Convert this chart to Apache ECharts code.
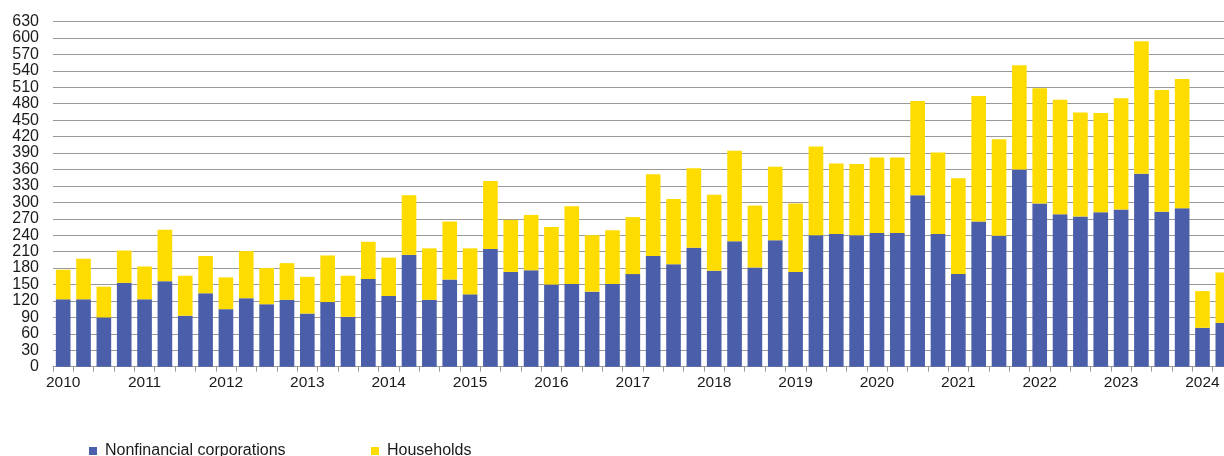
<!DOCTYPE html>
<html>
<head>
<meta charset="utf-8">
<script src="https://cdn.jsdelivr.net/npm/echarts@6/dist/echarts.min.js"></script>
<style>
  html, body { margin: 0; padding: 0; background: #fff; overflow: hidden; }
  /* chart is wider than the window on purpose: the last bar is cut at the right edge */
  #chart { width: 1240px; height: 470px; }
</style>
</head>
<body>
<div id="chart"></div>
<script>
/* -------------------------------------------------------------------------- */
/*                      Loans by sector, quarterly 2010-2024                  */
/* -------------------------------------------------------------------------- */

const years = ['2010', '2011', '2012', '2013', '2014', '2015', '2016',
  '2017', '2018', '2019', '2020', '2021', '2022', '2023', '2024'];

// quarter labels, only Q1 gets the year shown
const quarters = [];
years.forEach(y => {
  ['Q1', 'Q2', 'Q3', 'Q4'].forEach(q => {
    if (y === '2024' && (q === 'Q3' || q === 'Q4')) return;
    quarters.push(y + ' ' + q);
  });
});

const corporations = [
  123, 123, 90, 153,
  123, 156, 93, 134,
  105, 125, 114, 122,
  97, 118, 91, 160,
  129, 204, 122, 159,
  132, 215, 173, 176,
  150, 151, 137, 151,
  169, 202, 187, 217,
  175, 229, 181, 231,
  173, 240, 242, 240,
  244, 244, 313, 242,
  169, 265, 239, 360,
  298, 278, 274, 282,
  287, 352, 283, 289,
  71, 80
];

const households = [
  54, 74, 56, 59,
  60, 94, 73, 68,
  58, 86, 66, 67,
  67, 85, 75, 68,
  70, 109, 94, 106,
  84, 124, 95, 101,
  105, 142, 103, 98,
  104, 149, 119, 145,
  139, 165, 113, 134,
  125, 162, 129, 130,
  138, 138, 172, 149,
  175, 229, 176, 190,
  210, 209, 190, 181,
  203, 242, 222, 236,
  67, 92
];

const yTicks = { min: 0, max: 630, interval: 30 };

const blue = '#4a5ea9';
const yellow = '#ffdc00';
const gray = '#999999';
const textColor = '#1a1a1a';
const font = '"Liberation Sans", Arial, sans-serif';

const chart = echarts.init(document.getElementById('chart'));

const legendItem = (name, left) => ({
  data: [name],
  left: left,
  top: 443,
  itemWidth: 8,
  itemHeight: 8,
  itemGap: 0,
  icon: 'rect',
  padding: 0,
  textStyle: { color: textColor, fontSize: 16, fontFamily: font, padding: [0, 0, 0, 3] }
});

const option = {
  animation: false,
  textStyle: { fontFamily: font },
  grid: {
    left: 53,
    top: 21.5,
    height: 345.2,
    width: 1180
  },
  legend: [
    legendItem('Nonfinancial corporations', 89),
    legendItem('Households', 371)
  ],
  xAxis: {
    type: 'category',
    data: quarters,
    boundaryGap: true,
    axisLine: { show: true, lineStyle: { color: gray, width: 1 } },
    axisTick: {
      show: true,
      length: 5,
      interval: 0,
      lineStyle: { color: gray }
    },
    axisLabel: {
      interval: 0,
      color: textColor,
      fontSize: 15.5,
      margin: 8,
      formatter: value => (value.endsWith('Q1') ? value.slice(0, 4) : '')
    },
    splitLine: { show: false }
  },
  yAxis: {
    type: 'value',
    min: yTicks.min,
    max: yTicks.max,
    interval: yTicks.interval,
    axisLine: { show: false },
    axisTick: { show: false },
    axisLabel: {
      color: textColor,
      fontSize: 16,
      margin: 14
    },
    splitLine: { lineStyle: { color: gray, width: 1 } }
  },
  series: [
    {
      name: 'Nonfinancial corporations',
      type: 'bar',
      stack: 'total',
      data: corporations,
      barCategoryGap: '28%',
      itemStyle: { color: blue }
    },
    {
      name: 'Households',
      type: 'bar',
      stack: 'total',
      data: households,
      barCategoryGap: '28%',
      itemStyle: { color: yellow }
    }
  ]
};

chart.setOption(option);
</script>
</body>
</html>
